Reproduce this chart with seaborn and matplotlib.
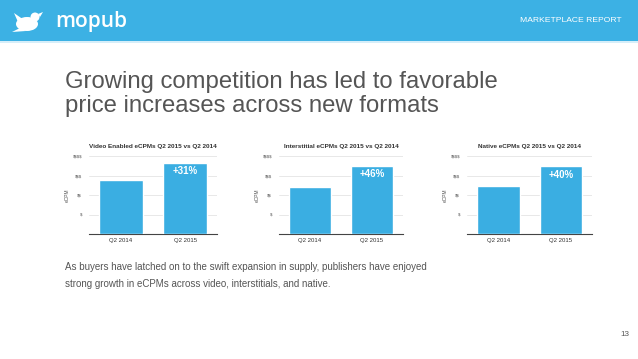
import matplotlib
matplotlib.use("Agg")
import matplotlib.pyplot as plt
import seaborn as sns
import pandas as pd
from matplotlib.patches import Rectangle, Ellipse, Polygon, Circle

sns.set_theme(style="white")
plt.rcParams['font.family'] = ['Liberation Sans', 'DejaVu Sans']

# ---- data ----
categories = ["Q2 2014", "Q2 2015"]
chart_titles = ["Video Enabled eCPMs Q2 2015 vs Q2 2014",
                "Interstitial eCPMs Q2 2015 vs Q2 2014",
                "Native eCPMs Q2 2015 vs Q2 2014"]
video_values = [2.77, 3.63]
interstitial_values = [2.40, 3.50]
native_values = [2.48, 3.47]
growth_labels = ["+31%", "+46%", "+40%"]
ytick_values = [1, 2, 3, 4]
ytick_labels = ["$", "$$", "$$$", "$$$$"]

W, H = 638, 359
BLUE = "#3cb1e4"
BAR = "#3aaee2"

fig = plt.figure(figsize=(W / 100, H / 100), dpi=100)
fig.patch.set_facecolor("white")

def fx(px):
    return px / W

def fy(py):
    return 1 - py / H

# header band
fig.patches.append(Rectangle((0, fy(41)), 1, 41 / H, transform=fig.transFigure,
                             facecolor=BLUE, edgecolor="none", zorder=0))
fig.patches.append(Rectangle((0, fy(43)), 1, 2 / H, transform=fig.transFigure,
                             facecolor="#d6eef9", edgecolor="none", zorder=0))
# simple bird logo
bird = [
    Ellipse((fx(27), fy(24)), 22 / W, 14 / H, angle=0, transform=fig.transFigure,
            facecolor="white", edgecolor="none"),
    Circle((fx(36), fy(17)), 0.0001, transform=fig.transFigure, facecolor="white"),
    Ellipse((fx(35), fy(17)), 9 / W, 9 / H, transform=fig.transFigure,
            facecolor="white", edgecolor="none"),
    Polygon([(fx(38), fy(14)), (fx(43), fy(12)), (fx(40), fy(17))], closed=True,
            transform=fig.transFigure, facecolor="white", edgecolor="none"),
    Polygon([(fx(18), fy(22)), (fx(14), fy(13)), (fx(24), fy(20))], closed=True,
            transform=fig.transFigure, facecolor="white", edgecolor="none"),
    Polygon([(fx(20), fy(28)), (fx(12), fy(32)), (fx(26), fy(31))], closed=True,
            transform=fig.transFigure, facecolor="white", edgecolor="none"),
]
for p in bird:
    fig.patches.append(p)
fig.text(fx(55), fy(21), "mopub", color="white", fontsize=15, fontweight="semibold",
         va="center", ha="left", family=["Open Sans", "DejaVu Sans"])
fig.text(fx(622), fy(21), "MARKETPLACE REPORT", color="white", fontsize=6.1,
         va="center", ha="right")

# main title
fig.text(fx(65), fy(82), "Growing competition has led to favorable", color="#555555",
         fontsize=17.2, va="center", ha="left")
fig.text(fx(65), fy(106), "price increases across new formats", color="#555555",
         fontsize=17.2, va="center", ha="left")

# charts
panels = [(89, 217, video_values), (279, 403, interstitial_values), (467, 592, native_values)]
top_px, base_px = 156, 234
for (l, r, vals), title, glabel in zip(panels, chart_titles, growth_labels):
    ax = fig.add_axes([l / W, (H - base_px) / H, (r - l) / W, (base_px - top_px) / H])
    df = pd.DataFrame({"period": categories, "value": vals})
    sns.barplot(data=df, x="period", y="value", color=BAR, saturation=1, width=0.68, ax=ax,
                zorder=3)
    ax.set_ylim(0, 4)
    ax.set_xlim(-0.5, 1.5)
    ax.set_yticks(ytick_values)
    ax.set_yticklabels([t.replace("$", r"\$") for t in ytick_labels])
    ax.yaxis.grid(True, color="#e4e4e4", linewidth=0.6, zorder=0)
    ax.tick_params(axis="y", labelsize=3.2, colors="#555555", length=0, pad=5)
    ax.tick_params(axis="x", labelsize=4.3, colors="#333333", length=0, pad=3)
    for s in ["top", "right", "left"]:
        ax.spines[s].set_visible(False)
    ax.spines["bottom"].set_color("#444444")
    ax.spines["bottom"].set_linewidth(0.8)
    ax.set_xlabel("")
    ax.set_ylabel("eCPM", fontsize=3.5, color="#555555", labelpad=2)
    ax.set_title(title, fontsize=4.6, fontweight="bold", color="#333333", pad=6)
    ax.text(1, vals[1] - 0.42, glabel, color="white", fontsize=7, fontweight="bold",
            ha="center", va="center", zorder=5)

# body text
fig.text(fx(65), fy(267),
         "As buyers have latched on to the swift expansion in supply, publishers have enjoyed",
         color="#555555", fontsize=7, va="center", ha="left")
fig.text(fx(65), fy(284),
         "strong growth in eCPMs across video, interstitials, and native.",
         color="#555555", fontsize=7, va="center", ha="left")
fig.text(fx(629), fy(334), "13", color="#555555", fontsize=5.8, va="center", ha="right")

fig.savefig("out.png", dpi=100)
